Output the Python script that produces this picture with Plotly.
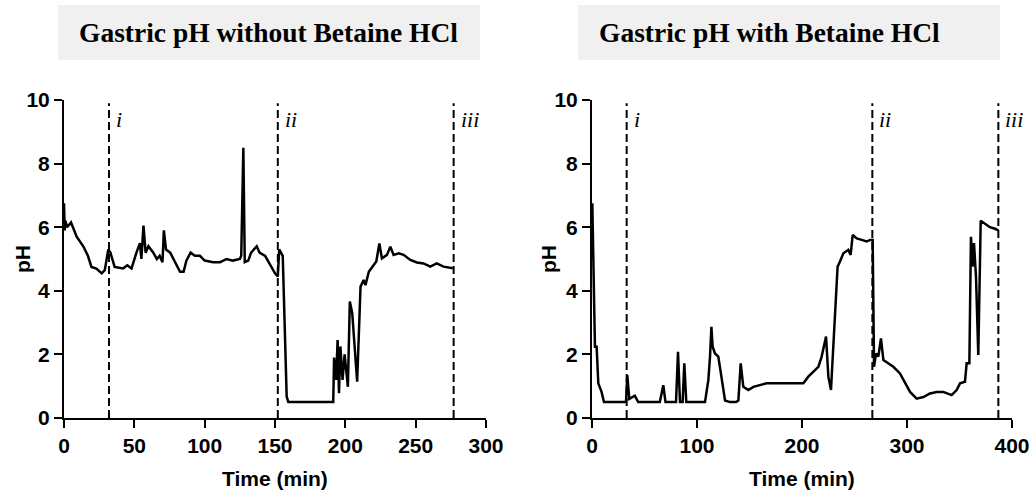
import plotly.graph_objects as go

# ---------------- data ----------------
left_time = [0, 0.5, 1, 2.2, 5, 9, 13.7, 17, 19.5, 23, 26.8, 29, 31.5, 33, 36, 42, 45, 48,
             51.5, 54, 55, 56.5, 58, 60, 63.5, 66, 68, 70, 71, 72.5, 75.5, 79, 82.5, 85, 87,
             90, 93, 96.6, 100, 106, 111, 115.6, 120, 125, 126, 127.5, 128.5, 131, 133, 137,
             139, 143, 146.5, 150, 152, 153, 155.5, 158.3, 159.5, 191.4, 192, 193.5, 194.5,
             195.5, 196.5, 198, 199.5, 201.8, 203.2, 204.9, 208.4, 210.8, 213, 214.3, 216.7,
             220.2, 222, 224.2, 226, 229.6, 232, 234.3, 237.9, 241.4, 246.2, 250.9, 255.6,
             260.4, 265, 269.8, 276.4]
left_ph = [6.75, 5.9, 6.2, 6.0, 6.15, 5.7, 5.4, 5.1, 4.75, 4.7, 4.55, 4.65, 5.3, 5.2, 4.75, 4.7,
           4.8, 4.7, 5.2, 5.5, 5.0, 6.05, 5.2, 5.4, 5.2, 5.0, 5.1, 4.9, 5.9, 5.3, 5.2, 4.9, 4.6,
           4.6, 4.95, 5.2, 5.1, 5.1, 4.95, 4.9, 4.9, 5.0, 4.95, 5.0, 5.1, 8.5, 4.9, 4.95, 5.2,
           5.4, 5.2, 5.1, 4.8, 4.55, 4.45, 5.3, 5.1, 0.67, 0.5, 0.5, 1.9, 1.2, 2.45, 0.78, 2.25,
           1.2, 2.0, 0.98, 3.66, 3.3, 1.14, 4.13, 4.34, 4.18, 4.6, 4.81, 4.92, 5.49, 5.02, 5.13,
           5.39, 5.13, 5.18, 5.13, 4.97, 4.89, 4.86, 4.76, 4.86, 4.76, 4.71]

right_time = [0.3, 1.2, 2.8, 4.4, 6, 9.1, 11.4, 32.4, 33.6, 35.5, 40.8, 44, 64.6, 67.9, 70, 80,
              81.9, 83.8, 86.3, 87.9, 89.8, 107.6, 110.8, 112.4, 113.7, 114.9, 117.1, 120.3,
              123.5, 126.7, 131.4, 137.1, 139.4, 141.6, 144.1, 148.9, 153.7, 166.3, 179, 201.3,
              206, 210.8, 215.6, 218.7, 222.9, 225.1, 227.6, 229.8, 231.4, 233.9, 236.2, 239.4,
              244.1, 246.3, 248.3, 252.1, 256.8, 261.6, 264.8, 267.3, 268.6, 270.5, 272.7,
              275.2, 277.5, 282.2, 287, 293.3, 298.1, 302.9, 309.2, 315.6, 321.9, 328.3, 334.6,
              342.5, 347.3, 350.5, 355.2, 356.8, 359.4, 360.9, 362.5, 363.8, 365.7, 367.9,
              370.2, 374.3, 379, 383.8, 387]
right_ph = [6.75, 5.4, 2.24, 2.24, 1.09, 0.82, 0.5, 0.5, 1.35, 0.6, 0.7, 0.5, 0.5, 1.03, 0.5,
            0.5, 2.08, 0.5, 0.5, 1.72, 0.5, 0.5, 1.19, 1.93, 2.87, 2.24, 2.03, 1.93, 1.19, 0.55,
            0.5, 0.5, 0.55, 1.72, 0.98, 0.88, 0.98, 1.09, 1.09, 1.09, 1.3, 1.46, 1.61, 1.93,
            2.56, 1.3, 0.88, 2.24, 3.29, 4.76, 4.92, 5.18, 5.29, 5.13, 5.76, 5.65, 5.6, 5.55,
            5.6, 5.6, 1.61, 2.03, 1.93, 2.5, 1.82, 1.72, 1.61, 1.4, 1.09, 0.82, 0.61, 0.66,
            0.77, 0.82, 0.82, 0.72, 0.88, 1.09, 1.14, 1.72, 1.72, 5.7, 4.76, 5.5, 4.45, 1.98,
            6.2, 6.1, 6.0, 5.95, 5.9]

left_markers = [32, 152, 277]
right_markers = [33, 267, 387]
marker_labels = ["i", "ii", "iii"]

titles = ["Gastric pH without Betaine HCl", "Gastric pH with Betaine HCl"]
y_title = "pH"
x_title = "Time (min)"
left_xticks = [0, 50, 100, 150, 200, 250, 300]
right_xticks = [0, 100, 200, 300, 400]
yticks = [0, 2, 4, 6, 8, 10]

# ---------------- figure ----------------
W, H = 1029, 492
TICKFONT = dict(family="Liberation Sans, Arial, sans-serif",
                size=21, color="black", weight="bold")

fig = go.Figure()
fig.add_trace(go.Scatter(x=left_time, y=left_ph, mode="lines",
                         line=dict(color="black", width=2.5), xaxis="x", yaxis="y",
                         showlegend=False, hoverinfo="skip"))
fig.add_trace(go.Scatter(x=right_time, y=right_ph, mode="lines",
                         line=dict(color="black", width=2.5), xaxis="x2", yaxis="y2",
                         showlegend=False, hoverinfo="skip"))

def px(x):
    return x / W

def py(y):
    return (H - y) / H

axis_common = dict(showline=True, linecolor="black", linewidth=2, ticks="outside",
                   ticklen=8, tickwidth=2, tickcolor="black", showgrid=False,
                   zeroline=False, tickfont=TICKFONT, fixedrange=True, automargin=False,
                   ticklabeloverflow="allow")

fig.update_layout(
    width=W, height=H, margin=dict(l=0, r=0, t=0, b=0, autoexpand=False),
    paper_bgcolor="white", plot_bgcolor="white",
    xaxis=dict(domain=[px(64), px(486)], range=[0, 300], tickvals=left_xticks,
               anchor="y", **axis_common),
    yaxis=dict(domain=[py(418), py(100)], range=[0, 10], tickvals=yticks,
               anchor="x", **axis_common),
    xaxis2=dict(domain=[px(592), px(1012)], range=[0, 400], tickvals=right_xticks,
                anchor="y2", **axis_common),
    yaxis2=dict(domain=[py(418), py(100)], range=[0, 10], tickvals=yticks,
                anchor="x2", **axis_common),
)

shapes = []
annotations = []
for (xref, yref, markers) in [("x", "y", left_markers), ("x2", "y2", right_markers)]:
    for m, lab in zip(markers, marker_labels):
        shapes.append(dict(type="line", xref=xref, yref=yref, x0=m, x1=m, y0=0, y1=9.9,
                           line=dict(color="black", width=2, dash="8px,4px")))
        annotations.append(dict(xref=xref, yref=yref, x=m, y=9.4, text=f"<i>{lab}</i>",
                                showarrow=False, xanchor="left", yanchor="middle", xshift=5,
                                font=dict(family="Liberation Serif, Times New Roman, serif",
                                          size=22, color="black")))

# title boxes
for (x0, x1, tx), t in zip([(58, 480, 77), (578, 1000, 597)], titles):
    shapes.append(dict(type="rect", xref="paper", yref="paper", x0=px(x0), x1=px(x1),
                       y0=py(60), y1=py(5), fillcolor="#f0f0f0", line=dict(width=0),
                       layer="below"))
    annotations.append(dict(xref="paper", yref="paper", x=px(tx), y=py(32), text=t,
                            showarrow=False, xanchor="left", yanchor="middle",
                            font=dict(family="Liberation Serif, Times New Roman, serif",
                                      size=27.5, color="black", weight="bold")))

# axis titles
for xc, yx in [(275, 22), (802, 548)]:
    annotations.append(dict(xref="paper", yref="paper", x=px(xc), y=py(478), text=x_title,
                            showarrow=False, xanchor="center", yanchor="middle",
                            font=TICKFONT))
    annotations.append(dict(xref="paper", yref="paper", x=px(yx), y=py(259), text=y_title,
                            showarrow=False, xanchor="center", yanchor="middle",
                            textangle=-90, font=TICKFONT))

fig.update_layout(shapes=shapes, annotations=annotations)
fig.write_html("out.html", config={"displayModeBar": False},
               post_script="document.body.style.margin='0px';document.body.style.overflow='hidden';")
